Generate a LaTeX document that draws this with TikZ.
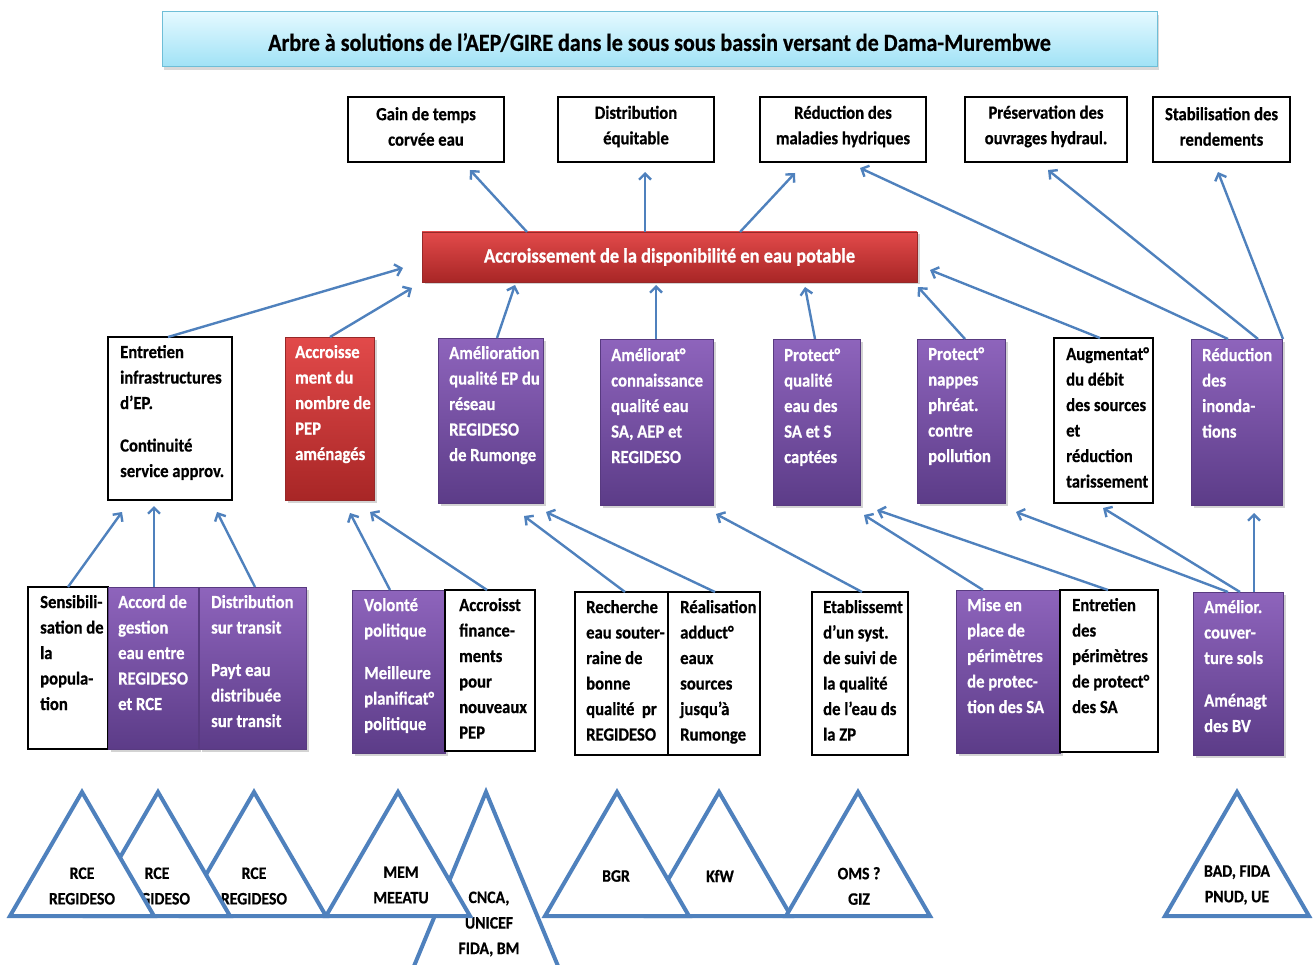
\documentclass[tikz,border=0pt]{standalone}
\usepackage{fontspec}
\setmainfont{Carlito}[FakeStretch=0.9, BoldFeatures={FakeBold=0.6}]
\usetikzlibrary{arrows.meta,shadows,calc}
\definecolor{arrc}{RGB}{79,129,189}
\definecolor{purT}{RGB}{142,100,188}
\definecolor{purB}{RGB}{92,60,136}
\definecolor{purD}{RGB}{88,58,128}
\definecolor{redT}{RGB}{226,74,74}
\definecolor{redB}{RGB}{168,38,38}
\definecolor{redD}{RGB}{150,40,40}
\definecolor{titT}{RGB}{228,249,255}
\definecolor{titB}{RGB}{160,226,246}
\definecolor{titD}{RGB}{110,190,215}
\newcommand\bxfont{\fontsize{18.5}{25.5}\selectfont\bfseries}
\newcommand\cenfont{\fontsize{20.5}{25}\selectfont\bfseries}
\newcommand\titfont{\fontsize{24.5}{26}\selectfont\bfseries}
\newcommand\trifont{\fontsize{17.5}{25.5}\selectfont\bfseries}
\tikzset{
  boxbase/.style={anchor=north west, inner sep=0pt, outer sep=0pt},
  wbox/.style={boxbase, draw=black, line width=1.3pt, fill=white},
  tbox/.style={wbox, align=center, font=\bxfont, text=black},
  pbox/.style={boxbase, draw=purD, line width=0.8pt, top color=purT, bottom color=purB,
    drop shadow={opacity=0.35,shadow xshift=2.5pt,shadow yshift=-2.5pt}},
  rbox/.style={boxbase, draw=redD, line width=0.8pt, top color=redT, bottom color=redB,
    drop shadow={opacity=0.35,shadow xshift=2.5pt,shadow yshift=-2.5pt}},
  titlebox/.style={boxbase, draw=titD, line width=1pt, top color=titT, bottom color=titB,
    drop shadow={opacity=0.3,shadow xshift=2pt,shadow yshift=-3pt}},
  wtxt/.style={anchor=north west, inner sep=0pt, align=left, font=\bxfont, text=black},
  ptxt/.style={wtxt, text=white},
  arr/.style={draw=arrc, line width=2.4pt, -{Straight Barb[length=6pt,width=12pt]}},
  tri/.style={draw=arrc, line width=4pt, fill=white},
  trit/.style={font=\trifont, align=center, text=black, inner sep=0pt},
}
\begin{document}
\begin{tikzpicture}[x=1pt,y=-1pt]
\useasboundingbox (0,0) rectangle (1313,965);
\begin{scope}
\clip (0,0) rectangle (1313,965);

% Title
\node[titlebox, minimum width=995pt, minimum height=55pt] (title) at (162,12) {};
\node[font=\titfont, text=black, inner sep=0pt] at ([shift={(0,3)}]title.center)
  {Arbre à solutions de l’AEP/GIRE dans le sous sous bassin versant de Dama-Murembwe};

% Top row
\node[tbox, minimum width=156pt, minimum height=65pt] (t1) at (348,97) {};
\node[font=\bxfont, align=center] at ([shift={(0,-3)}]t1.center) {Gain de temps\\corvée eau};
\node[tbox, minimum width=156pt, minimum height=65pt] (t2) at (558,97) {};
\node[font=\bxfont, align=center] at ([shift={(0,-3)}]t2.center) {Distribution\\équitable};
\node[tbox, minimum width=166pt, minimum height=65pt] (t3) at (760,97) {};
\node[font=\bxfont, align=center] at ([shift={(0,-3)}]t3.center) {Réduction des\\maladies hydriques};
\node[tbox, minimum width=162pt, minimum height=65pt] (t4) at (965,97) {};
\node[font=\bxfont, align=center] at ([shift={(0,-3)}]t4.center) {Préservation des\\ouvrages hydraul.};
\node[tbox, minimum width=137pt, minimum height=65pt] (t5) at (1153,97) {};
\node[font=\bxfont, align=center] at ([shift={(0,-3)}]t5.center) {Stabilisation des\\rendements};

% Central
\node[rbox, minimum width=495pt, minimum height=50pt, font=\cenfont, text=white] (cen) at (422,232)
  {Accroissement de la disponibilité en eau potable};

% Middle row
\node[wbox, minimum width=124pt, minimum height=163pt] (m1) at (108,337) {};
\node[wtxt] at ([shift={(12,3)}]m1.north west) {\strut Entretien\\infrastructures\\d’EP.\\[17pt]Continuité\\service approv.};
\node[rbox, minimum width=89pt, minimum height=163pt] (m2) at (285,337) {};
\node[ptxt] at ([shift={(10,3)}]m2.north west) {\strut Accroisse\\ment du\\nombre de\\PEP\\aménagés};
\node[pbox, minimum width=105pt, minimum height=165pt] (m3) at (438,338) {};
\node[ptxt] at ([shift={(11,3)}]m3.north west) {\strut Amélioration\\qualité EP du\\réseau\\REGIDESO\\de Rumonge};
\node[pbox, minimum width=113pt, minimum height=166pt] (m4) at (600,339) {};
\node[ptxt] at ([shift={(11,4)}]m4.north west) {\strut Améliorat°\\connaissance\\qualité eau\\SA, AEP et\\REGIDESO};
\node[pbox, minimum width=87pt, minimum height=166pt] (m5) at (773,339) {};
\node[ptxt] at ([shift={(11,4)}]m5.north west) {\strut Protect°\\qualité\\eau des\\SA et S\\captées};
\node[pbox, minimum width=88pt, minimum height=164pt] (m6) at (917,339) {};
\node[ptxt] at ([shift={(11,3)}]m6.north west) {\strut Protect°\\nappes\\phréat.\\contre\\pollution};
\node[wbox, minimum width=99pt, minimum height=165pt] (m7) at (1054,338) {};
\node[wtxt] at ([shift={(12,4)}]m7.north west) {\strut Augmentat°\\du débit\\des sources\\et\\réduction\\tarissement};
\node[pbox, minimum width=91pt, minimum height=166pt] (m8) at (1191,339) {};
\node[ptxt] at ([shift={(11,4)}]m8.north west) {\strut Réduction\\des\\inonda-\\tions};

% Bottom row
\node[wbox, minimum width=80pt, minimum height=162pt] (b1) at (28,587) {};
\node[wtxt] at ([shift={(12,3)}]b1.north west) {\strut Sensibili-\\sation de\\la\\popula-\\tion};
\node[pbox, minimum width=90pt, minimum height=162pt] (b2) at (108,587) {};
\node[ptxt] at ([shift={(10,3)}]b2.north west) {\strut Accord de\\gestion\\eau entre\\REGIDESO\\et RCE};
\node[pbox, minimum width=107pt, minimum height=162pt] (b3) at (199,587) {};
\node[ptxt] at ([shift={(12,3)}]b3.north west) {\strut Distribution\\sur transit\\[17pt]Payt eau\\distribuée\\sur transit};
\node[pbox, minimum width=93pt, minimum height=163pt] (b4) at (352,590) {};
\node[ptxt] at ([shift={(12,3)}]b4.north west) {\strut Volonté\\politique\\[17pt]Meilleure\\planificat°\\politique};
\node[wbox, minimum width=90pt, minimum height=161pt] (b5) at (445,590) {};
\node[wtxt] at ([shift={(14,3)}]b5.north west) {\strut Accroisst\\finance-\\ments\\pour\\nouveaux\\PEP};
\node[wbox, minimum width=93pt, minimum height=163pt] (b6) at (575,592) {};
\node[wtxt] at ([shift={(11,3)}]b6.north west) {\strut Recherche\\eau souter-\\raine de\\bonne\\qualité~ pr\\REGIDESO};
\node[wbox, minimum width=92pt, minimum height=163pt] (b7) at (668,592) {};
\node[wtxt] at ([shift={(12,3)}]b7.north west) {\strut Réalisation\\adduct°\\eaux\\sources\\jusqu’à\\Rumonge};
\node[wbox, minimum width=96pt, minimum height=163pt] (b8) at (812,592) {};
\node[wtxt] at ([shift={(11,3)}]b8.north west) {\strut Etablissemt\\d’un syst.\\de suivi de\\la qualité\\de l’eau ds\\la ZP};
\node[pbox, minimum width=104pt, minimum height=163pt] (b9) at (956,590) {};
\node[ptxt] at ([shift={(11,3)}]b9.north west) {\strut Mise en\\place de\\périmètres\\de protec-\\tion des SA};
\node[wbox, minimum width=98pt, minimum height=162pt] (b10) at (1060,590) {};
\node[wtxt] at ([shift={(12,3)}]b10.north west) {\strut Entretien\\des\\périmètres\\de protect°\\des SA};
\node[pbox, minimum width=90pt, minimum height=163pt] (b11) at (1193,592) {};
\node[ptxt] at ([shift={(11,3)}]b11.north west) {\strut Amélior.\\couver-\\ture sols\\[17pt]Aménagt\\des BV};

% Arrows: central -> top
\draw[arr] ([shift={(105,0)}]cen.north west) -- ([shift={(122,8)}]t1.south west);
\draw[arr] ([shift={(223,0)}]cen.north west) -- ([shift={(87,10)}]t2.south west);
\draw[arr] ([shift={(318,0)}]cen.north west) -- ([shift={(35,11)}]t3.south west);
% middle -> central
\draw[arr] ([shift={(60,0)}]m1.north west) -- ([shift={(-19,36)}]cen.north west);
\draw[arr] ([shift={(45,0)}]m2.north west) -- ([shift={(-10,6)}]cen.south west);
\draw[arr] ([shift={(59,0)}]m3.north west) -- ([shift={(93,3)}]cen.south west);
\draw[arr] ([shift={(56,0)}]m4.north west) -- ([shift={(234,3)}]cen.south west);
\draw[arr] ([shift={(42,0)}]m5.north west) -- ([shift={(383,5)}]cen.south west);
\draw[arr] ([shift={(48,0)}]m6.north west) -- ([shift={(1,5)}]cen.south east);
\draw[arr] ([shift={(46,0)}]m7.north west) -- ([shift={(13,13)}]cen.east);
% M8 -> top
\draw[arr] ([shift={(37,0)}]m8.north west) -- ([shift={(100,6)}]t3.south west);
\draw[arr] ([shift={(67,0)}]m8.north west) -- ([shift={(83,8)}]t4.south west);
\draw[arr] ([shift={(92,0)}]m8.north west) -- ([shift={(65,10)}]t5.south west);
% bottom -> middle
\draw[arr] ([shift={(40,0)}]b1.north west) -- ([shift={(14,12)}]m1.south west);
\draw[arr] ([shift={(46,0)}]b2.north west) -- ([shift={(46,6)}]m1.south west);
\draw[arr] ([shift={(56,0)}]b3.north west) -- ([shift={(109,12)}]m1.south west);
\draw[arr] ([shift={(38,0)}]b4.north west) -- ([shift={(65,13)}]m2.south west);
\draw[arr] ([shift={(42,0)}]b5.north west) -- ([shift={(85,12)}]m2.south west);
\draw[arr] ([shift={(50,0)}]b6.north west) -- ([shift={(86,13)}]m3.south west);
\draw[arr] ([shift={(47,0)}]b7.north west) -- ([shift={(108,9)}]m3.south west);
\draw[arr] ([shift={(50,0)}]b8.north west) -- ([shift={(116,9)}]m4.south west);
\draw[arr] ([shift={(27,0)}]b9.north west) -- ([shift={(91,10)}]m5.south west);
\draw[arr] ([shift={(48,0)}]b10.north west) -- ([shift={(104,5)}]m5.south west);
\draw[arr] ([shift={(35,0)}]b11.north west) -- ([shift={(99,9)}]m6.south west);
\draw[arr] ([shift={(47,0)}]b11.north west) -- ([shift={(49,5)}]m7.south west);
\draw[arr] ([shift={(61,0)}]b11.north west) -- ([shift={(63,8)}]m8.south west);

% Triangles
\draw[tri] (254,792) -- (326,916) -- (182,916) -- cycle;
\node[trit] at (254,886) {RCE\\REGIDESO};
\draw[tri] (158,792) -- (230,916) -- (86,916) -- cycle;
\node[trit] at (157,886) {RCE\\REGIDESO};
\draw[tri] (82,792) -- (154,916) -- (10,916) -- cycle;
\node[trit] at (82,886) {RCE\\REGIDESO};

\draw[tri] (486,792) -- (577,1012) -- (395,1012) -- cycle;
\node[trit] at (489,924) {CNCA,\\UNICEF\\FIDA, BM};
\draw[tri] (398,792) -- (470,916) -- (326,916) -- cycle;
\node[trit] at (401,885) {MEM\\MEEATU};

\draw[tri] (719,792) -- (791,916) -- (647,916) -- cycle;
\node[trit] at (720,876) {KfW};
\draw[tri] (617,792) -- (689,916) -- (545,916) -- cycle;
\node[trit] at (616,876) {BGR};
\draw[tri] (858,792) -- (930,916) -- (786,916) -- cycle;
\node[trit] at (859,886) {OMS ?\\GIZ};

\draw[tri] (1237,792) -- (1309,916) -- (1165,916) -- cycle;
\node[trit] at (1237,885) {BAD, FIDA\\PNUD, UE};
\end{scope}
\end{tikzpicture}
\end{document}
